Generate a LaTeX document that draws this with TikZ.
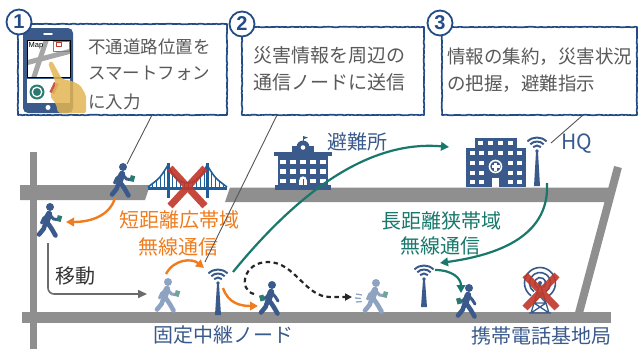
\documentclass[tikz,border=0pt]{standalone}
\usepackage{fontspec}
\newfontfamily\jp{Noto Sans CJK JP}
\newfontfamily\numf{Liberation Sans}
\usetikzlibrary{arrows.meta,decorations.pathmorphing}

\definecolor{dblue}{HTML}{3A5A8C}
\definecolor{lblue}{HTML}{8EA3C2}
\definecolor{nblue}{HTML}{234C87}
\definecolor{bridgeblue}{HTML}{1F5E99}
\definecolor{roadgray}{HTML}{8F8F8F}
\definecolor{orng}{HTML}{EF7D1F}
\definecolor{tealgreen}{HTML}{17786B}
\definecolor{xred}{HTML}{C0392B}
\definecolor{txtgray}{HTML}{595959}
\definecolor{handtan}{HTML}{E2B553}
\definecolor{phoneteal}{HTML}{2A7A70}
\definecolor{lphoneteal}{HTML}{6FA39B}
\definecolor{movegray}{HTML}{6B6B6B}
\definecolor{ptrgray}{HTML}{555555}

\tikzset{
  jpf/.style={font=\jp\fontsize{#1}{#1}\selectfont, inner sep=0pt},
  boxline/.style={draw=nblue, line width=1.7pt,
    decorate, decoration={random steps, segment length=2pt, amplitude=0.3pt}},
  numcirc/.style={circle, draw=nblue, line width=1.8pt, fill=white,
    minimum size=25pt, inner sep=0pt, text=nblue,
    font=\numf\bfseries\fontsize{20}{20}\selectfont},
  pointer/.style={draw=ptrgray, line width=0.9pt},
  arr/.style={line width=2.4pt, -{Triangle[length=8pt,width=8.5pt]}},
  % walking person holding a phone in the front hand
  pics/walkerF/.style 2 args={code={
    \fill[#1] (0,0) circle (4);
    \draw[#1, line width=6.5pt, line cap=round] (-1,7) -- (-3.5,14.5);
    \draw[#1, line width=4.6pt, line cap=round] (-3,15) -- (1.5,21.5) -- (5.5,28.5);
    \draw[#1, line width=4.6pt, line cap=round] (-4,15) -- (-6.5,22) -- (-11,27.5);
    \draw[#1, line width=3pt, line cap=round] (-2,7.5) -- (-6.5,11.5) -- (-8.5,16);
    \draw[#1, line width=3pt, line cap=round] (0,8) -- (3.5,12) -- (7,12.5);
    \fill[#2, rotate around={-15:(9,11.5)}] (7,8.5) rectangle (11.5,14.5);
  }},
  % walking person holding a phone in the back hand
  pics/walkerB/.style 2 args={code={
    \fill[#1] (0,0) circle (4);
    \draw[#1, line width=6.5pt, line cap=round] (-1,7) -- (-3.5,14.5);
    \draw[#1, line width=4.6pt, line cap=round] (-3,15) -- (1.5,21.5) -- (5.5,28.5);
    \draw[#1, line width=4.6pt, line cap=round] (-4,15) -- (-6.5,22) -- (-11,27.5);
    \draw[#1, line width=3pt, line cap=round] (0,8) -- (3.5,12) -- (6,16);
    \draw[#1, line width=3pt, line cap=round] (-2,7.5) -- (-5,11.5) -- (-8,13.5);
    \fill[#2, rotate around={15:(-10,13)}] (-12.3,10) rectangle (-7.8,16);
  }},
  % antenna pole with wifi waves; argument = pole length
  pics/relay/.style={code={
    \fill[dblue] (0,0) circle (1.9);
    \foreach \r in {5.5,9.5,13.5}
      \draw[dblue, line width=2pt] (225:\r) arc[start angle=225, end angle=315, radius=\r];
    \fill[dblue] (-1,1) -- (1,1) -- (3,#1) -- (-3,#1) -- cycle;
  }},
  % lattice base-station tower with radio rings
  pics/celltower/.style={code={
    \foreach \r in {5.5,10.5,15.5}
      \draw[dblue, line width=1.6pt] (125:\r) arc[start angle=125, end angle=415, radius=\r];
    \fill[dblue] (0,0) circle (2);
    \draw[dblue, line width=1.3pt] (0,0) -- (-9,30) (0,0) -- (9,30)
      (-3,10) -- (3,10) (-3,10) -- (6,20) (3,10) -- (-6,20) (-6,20) -- (6,20)
      (-6,20) -- (9,30) (6,20) -- (-9,30) (-11,30) -- (11,30);
  }},
}

\begin{document}
\begin{tikzpicture}[x=1pt, y=-1pt, line join=round]
\useasboundingbox (0,0) rectangle (638,349);

% ---------- roads ----------
\fill[roadgray] (30,152) rectangle (37,349);
\fill[roadgray] (20,185) -- (150,185) -- (145,200) -- (20,200) -- cycle;
\fill[roadgray] (230,187.5) -- (613,187.5) -- (609,202) -- (225,202) -- cycle;
\fill[roadgray] (22,312) rectangle (611,323);
\draw[roadgray, line width=8pt] (618,167) -- (579,313);

% ---------- suspension bridge ----------
\begin{scope}[bridgeblue]
  \fill (148,186.5) rectangle (227,190);
  \fill (166.5,163) rectangle (169.5,198);
  \fill (205.5,163) rectangle (208.5,198);
  \draw[line width=1.6pt] (168,165) .. controls (178,189) and (197,189) .. (207,165);
  \draw[line width=1.6pt] (168,165) .. controls (160,178) .. (148,187);
  \draw[line width=1.6pt] (207,165) .. controls (215,178) .. (227,187);
  \begin{scope}
    \clip (168,165) .. controls (178,189) and (197,189) .. (207,165) -- (207,190) -- (168,190) -- cycle;
    \foreach \x in {172,176,...,204} \draw[line width=0.7pt] (\x,160) -- (\x,188);
  \end{scope}
  \begin{scope}
    \clip (168,165) .. controls (160,178) .. (148,187) -- (168,187) -- cycle;
    \foreach \x in {152,156,160,164} \draw[line width=0.7pt] (\x,160) -- (\x,188);
  \end{scope}
  \begin{scope}
    \clip (207,165) .. controls (215,178) .. (227,187) -- (207,187) -- cycle;
    \foreach \x in {211,215,219,223} \draw[line width=0.7pt] (\x,160) -- (\x,188);
  \end{scope}
\end{scope}
\draw[xred, line width=7pt, opacity=0.92] (170,168) -- (205,206) (205,168) -- (170,206);

% ---------- shelter (school building) ----------
\begin{scope}[dblue]
  \draw[line width=1pt] (303,136) -- (303,144);
  \fill (303,136) -- (308,137.5) -- (303,139.5) -- cycle;
  \fill (303,147) circle (6.5);
  \fill (292,146) rectangle (314,153);
  \fill (274,152) rectangle (332,156);
  \fill (278,156) rectangle (328,185);
  \fill (275,185) rectangle (331,190);
\end{scope}
\fill[white] (303,147.5) circle (2.3);
\foreach \x in {283,293,303,313,323}
  \foreach \y in {162,171.5} \fill[white] (\x-2.8,\y-2.2) rectangle (\x+2.8,\y+2.2);
\foreach \x in {283,293,313,323} \fill[white] (\x-2.8,178.8) rectangle (\x+2.8,183.2);
\fill[white] (299.3,180) rectangle (306.7,185);
\fill[white] (303,180) circle (3.7);
\draw[dblue, line width=0.8pt] (303,179) -- (303,185);

% ---------- headquarters (hospital building) ----------
\fill[dblue] (475,138) rectangle (517,149);
\fill[dblue] (466,148) rectangle (526,187);
\foreach \x in {480,490,500,510} \fill[white] (\x-2.5,141) rectangle (\x+2.5,145);
\foreach \x in {472,481,490.5,500,510,519.5} \fill[white] (\x-2.5,151) rectangle (\x+2.5,155);
\foreach \x in {472,481,510,519.5}
  \foreach \y in {163,172.5,182} \fill[white] (\x-2.5,\y-2) rectangle (\x+2.5,\y+2);
\draw[white, line width=1.6pt] (495.5,166.5) circle (6);
\draw[white, line width=2.2pt] (495.5,162.5) -- (495.5,170.5) (491.5,166.5) -- (499.5,166.5);
\fill[white] (492,178) rectangle (499,187);
\pic at (537,151) {relay=35};

% ---------- relay nodes and base station ----------
\pic at (218,283) {relay=32};
\pic at (424,279) {relay=28};
\pic at (540,283) {celltower};
\draw[xred, line width=7pt, opacity=0.92] (525,275) -- (557,308) (557,275) -- (525,308);

% ---------- pedestrians ----------
\pic at (123,167) {walkerF={dblue}{phoneteal}};
\pic at (50,207)  {walkerF={dblue}{phoneteal}};
\pic at (168,282) {walkerF={lblue}{lphoneteal}};
\pic at (272,285) {walkerB={dblue}{phoneteal}};
\pic at (376,283) {walkerF={lblue}{lphoneteal}};
\pic at (469,288) {walkerB={dblue}{phoneteal}};
\draw[lblue, line width=1.3pt] (356,294) -- (362,295) (355,298) -- (361,298.5) (356,302) -- (362,301.5);

% ---------- arrow end points ----------
\coordinate (o1s) at (115,198);  \coordinate (o1e) at (66,222);
\coordinate (o2s) at (166,274);  \coordinate (o2e) at (204,268);
\coordinate (o3s) at (223,288);  \coordinate (o3e) at (258,306);
\coordinate (t1s) at (233,272);  \coordinate (t1e) at (449,147);
\coordinate (t2s) at (547,183);  \coordinate (t2e) at (440,263);
\coordinate (t3s) at (435,270);  \coordinate (t3e) at (461,293);
\coordinate (m1)  at (48,243);   \coordinate (m2)  at (147,294);
\coordinate (d1)  at (254,294);  \coordinate (d2)  at (352,297);

% ---------- arrows ----------
\draw[arr, orng] (o1s) .. controls (110,215) and (92,222) .. (o1e);
\draw[arr, orng] (o2s) .. controls (174,259) and (192,258) .. (o2e);
\draw[arr, orng] (o3s) .. controls (228,303) and (240,306) .. (o3e);
\draw[arr, tealgreen, line width=2.2pt] (t1s) .. controls (300,190) and (370,140) .. (t1e);
\draw[arr, tealgreen, line width=2.2pt] (t2s) .. controls (550,240) and (490,256) .. (t2e);
\draw[arr, tealgreen, line width=2.2pt] (t3s) .. controls (452,270) and (461,278) .. (t3e);
\draw[movegray, line width=1.6pt, rounded corners=6pt, -{Triangle[length=9pt,width=8pt]}] (m1) |- (m2);
\draw[black!85, line width=2.2pt, dash pattern=on 4.5pt off 3.5pt, -{Triangle[length=7pt,width=7pt]}]
  (d1) .. controls (238,290) and (243,262) .. (268,262)
       .. controls (295,262) and (305,297) .. (330,297) -- (d2);

% ---------- labels ----------
\node[jpf=20, text=orng] (sr1) at (179,220) {短距離広帯域};
\node[jpf=20, text=orng] (sr2) at (178,247) {無線通信};
\node[jpf=20, text=tealgreen] (lr1) at (441,221) {長距離狭帯域};
\node[jpf=20, text=tealgreen] (lr2) at (440,246) {無線通信};
\node[jpf=20, text=black!80] (mv) at (75,276) {移動};
\node[jpf=20, text=dblue] (relayl) at (223,335) {固定中継ノード};
\node[jpf=20, text=dblue] (basel) at (541,336) {携帯電話基地局};
\node[jpf=20, text=dblue] (shel) at (357,142) {避難所};
\node[font=\jp\fontsize{21}{21}\selectfont, inner sep=0pt, text=dblue] (hql) at (577,144) {HQ};

% ---------- callout pointers ----------
\coordinate (q1a) at (152,115); \coordinate (q1b) at (127,164);
\coordinate (q2a) at (277,115); \coordinate (q2b) at (205,262);
\coordinate (q3a) at (583,115); \coordinate (q3b) at (551,143);
\draw[pointer] (q1a) -- (q1b);
\draw[pointer] (q2a) -- (q2b);
\draw[pointer] (q3a) -- (q3b);

% ---------- callout boxes ----------
\fill[white] (18,24) rectangle (227,115);
\fill[white] (242,27) rectangle (424,115);
\fill[white] (442,27) rectangle (637,115);
\draw[boxline] (18,24) rectangle (227,115);
\draw[boxline] (242,27) rectangle (424,115);
\draw[boxline] (442,27) rectangle (637,115);

\node[jpf=17.5, text=txtgray, anchor=west] (c1l1) at (88,47) {不通道路位置を};
\node[jpf=17.5, text=txtgray, anchor=west] (c1l2) at (88,73) {スマートフォン};
\node[jpf=17.5, text=txtgray, anchor=west] (c1l3) at (88,102) {に入力};
\node[jpf=19, text=txtgray, anchor=west] (c2l1) at (253,55) {災害情報を周辺の};
\node[jpf=19, text=txtgray, anchor=west] (c2l2) at (253,82) {通信ノードに送信};
\node[jpf=18.5, text=txtgray, anchor=west] (c3l1) at (447,57) {情報の集約，災害状況};
\node[jpf=18.5, text=txtgray, anchor=west] (c3l2) at (447,84) {の把握，避難指示};

% ---------- smartphone with map ----------
\fill[dblue, rounded corners=5pt] (23,28) rectangle (73,113);
\draw[white, line width=1.5pt, line cap=round] (44,34) -- (52,34);
\fill[white] (27,40) rectangle (70,77);
\begin{scope}
  \clip (27,40) rectangle (70,77);
  \draw[black!35, line width=5pt] (22,64) -- (75,50);
  \draw[black!35, line width=5pt] (33,80) -- (47,38);
\end{scope}
\draw[black, line width=0.8pt] (27,40) rectangle (70,77);
\node[font=\numf\fontsize{7.5}{7.5}\selectfont, inner sep=0pt, anchor=west] (maplbl) at (28.5,46) {Map};
\draw[black!50, line width=0.6pt] (53,41) rectangle (69,51);
\draw[xred, line width=0.7pt] (56,42.5) rectangle (61,46.5);
\fill[white] (27,79) rectangle (70,103);
\fill[phoneteal] (37,92) circle (7.5);
\draw[white, line width=1.3pt] (37,92) circle (4.8);
\fill[xred!85, rotate around={-25:(54,88)}] (51.5,82.5) rectangle (56.5,93.5);
\fill[white] (48,107.5) circle (2.5);
\fill[handtan, opacity=0.85, rounded corners=2pt]
  (48,63) -- (52,61) -- (62,79) -- (72,81) -- (80,85) -- (86,95) -- (86,113)
  -- (58,113) -- (56,104) -- (50,96) -- (54,88) -- (56,84) -- cycle;

% ---------- step numbers ----------
\node[numcirc] (n1) at (19,22) {1};
\node[numcirc] (n2) at (242,24) {2};
\node[numcirc] (n3) at (440,23) {3};

\end{tikzpicture}
\end{document}
